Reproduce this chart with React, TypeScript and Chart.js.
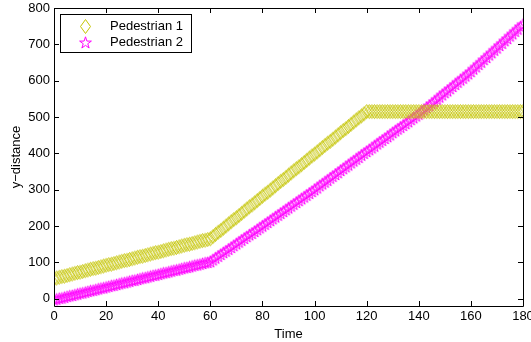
import React, { useEffect, useRef } from "react";
import { Chart, registerables } from "chart.js";

Chart.register(...registerables);

const timeSteps: number[] = [
  0, 1, 2, 3, 4, 5, 6, 7, 8, 9, 10, 11, 12, 13, 14, 15, 16, 17, 18, 19, 20, 21, 22, 23, 24, 25, 26, 27, 28, 29,
  30, 31, 32, 33, 34, 35, 36, 37, 38, 39, 40, 41, 42, 43, 44, 45, 46, 47, 48, 49, 50, 51, 52, 53, 54, 55, 56, 57, 58, 59,
  60, 61, 62, 63, 64, 65, 66, 67, 68, 69, 70, 71, 72, 73, 74, 75, 76, 77, 78, 79, 80, 81, 82, 83, 84, 85, 86, 87, 88, 89,
  90, 91, 92, 93, 94, 95, 96, 97, 98, 99, 100, 101, 102, 103, 104, 105, 106, 107, 108, 109, 110, 111, 112, 113, 114, 115, 116, 117, 118, 119,
  120, 121, 122, 123, 124, 125, 126, 127, 128, 129, 130, 131, 132, 133, 134, 135, 136, 137, 138, 139, 140, 141, 142, 143, 144, 145, 146, 147, 148, 149,
  150, 151, 152, 153, 154, 155, 156, 157, 158, 159, 160, 161, 162, 163, 164, 165, 166, 167, 168, 169, 170, 171, 172, 173, 174, 175, 176, 177, 178, 179,
  180,
];

const pedestrian1: number[] = [
  55, 57, 59, 61, 62, 64, 66, 68, 70, 72, 73, 75, 77, 79, 81, 83, 84, 86, 88, 90, 92, 94, 95, 97, 99, 101, 103, 105, 106, 108,
  110, 112, 114, 116, 117, 119, 121, 123, 125, 127, 128, 130, 132, 134, 136, 138, 139, 141, 143, 145, 147, 149, 150, 152, 154, 156, 158, 160, 161, 163,
  165, 171, 177, 183, 188, 194, 200, 206, 212, 218, 223, 229, 235, 241, 247, 253, 258, 264, 270, 276, 282, 288, 293, 299, 305, 311, 317, 323, 328, 334,
  340, 346, 352, 358, 363, 369, 375, 381, 387, 393, 398, 404, 410, 416, 422, 428, 433, 439, 445, 451, 457, 463, 468, 474, 480, 486, 492, 498, 503, 509,
  515, 515, 515, 515, 515, 515, 515, 515, 515, 515, 515, 515, 515, 515, 515, 515, 515, 515, 515, 515, 515, 515, 515, 515, 515, 515, 515, 515, 515, 515,
  515, 515, 515, 515, 515, 515, 515, 515, 515, 515, 515, 515, 515, 515, 515, 515, 515, 515, 515, 515, 515, 515, 515, 515, 515, 515, 515, 515, 515, 515,
  515,
];

const pedestrian2: number[] = [
  -3, -1, 1, 2, 4, 6, 8, 9, 11, 13, 15, 16, 18, 20, 22, 23, 25, 27, 29, 30, 32, 34, 36, 37, 39, 41, 43, 44, 46, 48,
  50, 51, 53, 55, 57, 58, 60, 62, 64, 65, 67, 69, 71, 72, 74, 76, 78, 79, 81, 83, 85, 86, 88, 90, 92, 93, 95, 97, 99, 100,
  102, 107, 112, 117, 122, 127, 131, 136, 141, 146, 151, 156, 161, 166, 171, 176, 180, 185, 190, 195, 200, 205, 210, 215, 220, 225, 230, 235, 240, 245,
  250, 255, 260, 265, 270, 275, 280, 285, 290, 295, 300, 305, 311, 316, 321, 326, 332, 337, 342, 347, 353, 358, 363, 368, 374, 379, 384, 389, 395, 400,
  405, 410, 415, 420, 426, 431, 436, 441, 446, 451, 457, 462, 467, 472, 477, 482, 487, 493, 498, 503, 508, 514, 520, 526, 531, 537, 543, 549, 555, 561,
  567, 572, 578, 584, 590, 596, 602, 607, 613, 619, 625, 632, 638, 645, 651, 658, 664, 671, 677, 684, 690, 697, 703, 710, 716, 723, 729, 736, 742, 749,
  755,
];

const seriesNames: string[] = ["Pedestrian 1", "Pedestrian 2"];
const xTicks: number[] = [0, 20, 40, 60, 80, 100, 120, 140, 160, 180];
const yTicks: number[] = [0, 100, 200, 300, 400, 500, 600, 700, 800];

const OLIVE = "#c4c400";
const MAGENTA = "#ff00ff";
const FONT = "'Liberation Sans', Arial, Helvetica, sans-serif";

function makeDiamond(): HTMLCanvasElement {
  const c = document.createElement("canvas");
  c.width = 13;
  c.height = 17;
  const ctx = c.getContext("2d")!;
  ctx.strokeStyle = OLIVE;
  ctx.lineWidth = 1;
  ctx.beginPath();
  ctx.moveTo(6.5, 1.5);
  ctx.lineTo(11.5, 8.5);
  ctx.lineTo(6.5, 15.5);
  ctx.lineTo(1.5, 8.5);
  ctx.closePath();
  ctx.stroke();
  return c;
}

function makeStar(): HTMLCanvasElement {
  const c = document.createElement("canvas");
  c.width = 15;
  c.height = 15;
  const ctx = c.getContext("2d")!;
  ctx.strokeStyle = MAGENTA;
  ctx.lineWidth = 1;
  const cx = 7.5;
  const cy = 8;
  const R = 6.2;
  const r = R * 0.382;
  ctx.beginPath();
  for (let i = 0; i < 10; i++) {
    const ang = -Math.PI / 2 + (i * Math.PI) / 5;
    const rad = i % 2 === 0 ? R : r;
    const px = cx + rad * Math.cos(ang);
    const py = cy + rad * Math.sin(ang);
    if (i === 0) ctx.moveTo(px, py);
    else ctx.lineTo(px, py);
  }
  ctx.closePath();
  ctx.stroke();
  return c;
}

export default function App() {
  const ref = useRef<HTMLCanvasElement>(null);

  useEffect(() => {
    if (!ref.current) return;
    const diamond = makeDiamond();
    const star = makeStar();
    const markers = [diamond, star];

    const framePlugin = {
      id: "matlabFrame",
      afterDraw(chart: any) {
        const { ctx, chartArea } = chart;
        const { left, right, top, bottom } = chartArea;
        const xs = chart.scales.x;
        const ys = chart.scales.y;
        ctx.save();
        ctx.strokeStyle = "#000";
        ctx.lineWidth = 1;
        ctx.beginPath();
        ctx.rect(Math.round(left) + 0.5, Math.round(top) + 0.5, Math.round(right - left), Math.round(bottom - top));
        ctx.stroke();
        const tl = 5;
        ctx.beginPath();
        for (const v of xTicks) {
          const px = Math.round(xs.getPixelForValue(v)) + 0.5;
          ctx.moveTo(px, bottom);
          ctx.lineTo(px, bottom - tl);
          ctx.moveTo(px, top);
          ctx.lineTo(px, top + tl);
        }
        for (const v of yTicks) {
          const py = Math.round(ys.getPixelForValue(v)) + 0.5;
          ctx.moveTo(left, py);
          ctx.lineTo(left + tl, py);
          ctx.moveTo(right, py);
          ctx.lineTo(right - tl, py);
        }
        ctx.stroke();

        // legend
        const lx = 60.5, ly = 14.5, lw = 131, lh = 38;
        ctx.fillStyle = "#fff";
        ctx.fillRect(lx, ly, lw, lh);
        ctx.strokeRect(lx, ly, lw, lh);
        ctx.font = `13px ${FONT}`;
        ctx.fillStyle = "#000";
        ctx.textBaseline = "middle";
        ctx.textAlign = "left";
        const rows = [26, 42];
        seriesNames.forEach((name, i) => {
          const m = markers[i];
          ctx.drawImage(m, Math.round(85 - m.width / 2), Math.round(rows[i] - m.height / 2));
          ctx.fillText(name, 110, rows[i] + 0.5);
        });
        ctx.restore();
      },
    };

    const chart = new Chart(ref.current, {
      type: "line",
      data: {
        datasets: [
          {
            label: seriesNames[0],
            data: timeSteps.map((t, i) => ({ x: t, y: pedestrian1[i] })),
            showLine: false,
            pointStyle: diamond as any,
            pointRadius: 6,
            borderColor: OLIVE,
            backgroundColor: OLIVE,
          },
          {
            label: seriesNames[1],
            data: timeSteps.map((t, i) => ({ x: t, y: pedestrian2[i] })),
            showLine: false,
            pointStyle: star as any,
            pointRadius: 6,
            borderColor: MAGENTA,
            backgroundColor: MAGENTA,
          },
        ],
      },
      options: {
        animation: false,
        responsive: false,
        devicePixelRatio: 1,
        events: [],
        layout: { padding: { left: 0, right: 8, top: 8, bottom: 0 } },
        plugins: { legend: { display: false }, tooltip: { enabled: false } },
        scales: {
          x: {
            type: "linear",
            min: 0,
            max: 180,
            afterBuildTicks: (s: any) => {
              s.ticks = xTicks.map((v) => ({ value: v }));
            },
            afterFit: (s: any) => {
              s.height = 36;
              s.paddingLeft = 0;
              s.paddingRight = 0;
            },
            grid: { display: false, drawTicks: false },
            border: { display: false },
            ticks: {
              color: "#000",
              font: { family: FONT, size: 13 },
              padding: 3,
              maxRotation: 0,
              autoSkip: false,
            },
            title: {
              display: true,
              text: "Time",
              color: "#000",
              font: { family: FONT, size: 13 },
              padding: { top: 3, bottom: 0 },
            },
          },
          y: {
            type: "linear",
            min: -20,
            max: 800,
            afterBuildTicks: (s: any) => {
              s.ticks = yTicks.map((v) => ({ value: v }));
            },
            afterFit: (s: any) => {
              s.width = 54;
              s.paddingTop = 0;
              s.paddingBottom = 0;
            },
            grid: { display: false, drawTicks: false },
            border: { display: false },
            ticks: {
              color: "#000",
              font: { family: FONT, size: 13 },
              padding: 4,
              autoSkip: false,
            },
            title: {
              display: true,
              text: "y\u2212distance",
              color: "#000",
              font: { family: FONT, size: 13 },
              padding: { top: 9, bottom: 0 },
            },
          },
        },
      },
      plugins: [framePlugin],
    });
    return () => chart.destroy();
  }, []);

  return (
    <div style={{ position: "absolute", left: 0, top: 0, width: 531, height: 342, background: "#fff" }}>
      <canvas ref={ref} width={531} height={342} style={{ width: 531, height: 342, display: "block" }} />
    </div>
  );
}
